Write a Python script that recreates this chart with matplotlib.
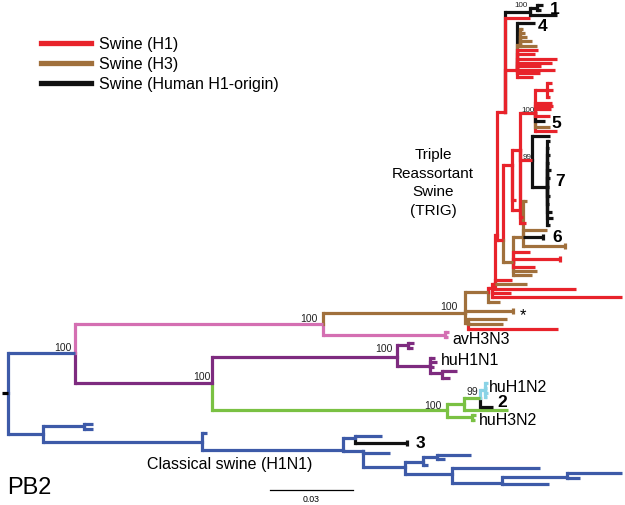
import matplotlib
matplotlib.use('Agg')
import matplotlib.pyplot as plt
from matplotlib.lines import Line2D
from collections import defaultdict

plt.rcParams['font.family'] = ['Liberation Sans', 'DejaVu Sans']

COL = {'red': '#E8232B', 'brown': '#A0703C', 'black': '#111111', 'pink': '#D46FB2',
       'purple': '#7E2B7F', 'green': '#7AC143', 'cyan': '#8AD3E6', 'blue': '#3D5AA8'}

# Tree nodes: (name, parent, depth, leaf position, clade colour, end tick)
# depth unit: 83 units = 0.03 substitutions/site
backbone = [
    ('root', None, 8, 393, 'blue', 0),
    ('A', 'root', 75, 353, 'blue', 0),
    ('P', 'A', 323, 324, 'pink', 0),
    ('Q', 'A', 212, 383, 'purple', 0),
    ('CS', 'root', 43, 434, 'blue', 0),
]
avian = [
    ('AV', 'P', 445, 335, 'pink', 0),
    ('av1', 'AV', 449, 332, 'pink', 0),
    ('av2', 'AV', 448, 337, 'pink', 0),
]
human = [
    ('H1', 'Q', 397, 357, 'purple', 0),
    ('H1a', 'H1', 408, 345, 'purple', 0),
    ('h1', 'H1a', 414, 343, 'purple', 0),
    ('h2', 'H1a', 413, 348, 'purple', 0),
    ('H1b', 'H1', 430, 366, 'purple', 0),
    ('h3', 'H1b', 435, 358, 'purple', 0),
    ('h4', 'H1b', 437, 362, 'purple', 0),
    ('h5', 'H1b', 434, 367, 'purple', 0),
    ('H1c', 'H1b', 442, 373, 'purple', 0),
    ('h6', 'H1c', 457, 371, 'purple', 0),
    ('h7', 'H1c', 450, 378, 'purple', 0),
    ('G', 'Q', 447, 410, 'green', 0),
    ('G2', 'G', 464, 404, 'green', 0),
    ('g1', 'G2', 508, 410, 'green', 0),
    ('G3', 'G2', 480, 398, 'green', 0),
    ('C', 'G3', 485, 390, 'cyan', 0),
    ('c1', 'C', 488, 383, 'cyan', 0),
    ('c2', 'C', 487, 388, 'cyan', 0),
    ('c3', 'C', 488, 393, 'cyan', 0),
    ('c4', 'C', 487, 397, 'cyan', 0),
    ('k2', 'G3', 493, 407, 'black', 0),
    ('G4', 'G', 472, 417, 'green', 0),
    ('g2', 'G4', 476, 415, 'green', 0),
    ('g3', 'G4', 475, 420, 'green', 0),
]
classical = [
    ('CS1', 'CS', 84, 426, 'blue', 0),
    ('cs1', 'CS1', 93, 424, 'blue', 0),
    ('cs2', 'CS1', 93, 429, 'blue', 0),
    ('CS2', 'CS', 202, 442, 'blue', 0),
    ('cs3', 'CS2', 207, 433, 'blue', 0),
    ('CS3', 'CS2', 343, 450, 'blue', 0),
    ('CS4', 'CS3', 355, 438, 'blue', 0),
    ('cs4', 'CS4', 382, 436, 'blue', 0),
    ('k3', 'CS4', 407, 443, 'black', 1),
    ('CS5', 'CS3', 363, 451, 'blue', 0),
    ('cs5', 'CS5', 390, 453, 'blue', 0),
    ('CS6', 'CS5', 405, 467, 'blue', 0),
    ('CS7', 'CS6', 423, 462, 'blue', 0),
    ('CS8', 'CS7', 437, 457, 'blue', 0),
    ('cs6', 'CS8', 471, 455, 'blue', 0),
    ('cs7', 'CS8', 445, 459, 'blue', 0),
    ('cs8', 'CS7', 428, 465, 'blue', 0),
    ('CS9', 'CS6', 452, 474, 'blue', 0),
    ('cs9', 'CS9', 540, 468, 'blue', 0),
    ('CS10', 'CS9', 502, 483, 'blue', 0),
    ('CS11', 'CS10', 567, 477, 'blue', 0),
    ('cs10', 'CS11', 622, 473, 'blue', 0),
    ('cs11', 'CS11', 580, 478, 'blue', 0),
    ('cs12', 'CS10', 549, 484, 'blue', 0),
]
trig = [
    ('TR', 'P', 465, 313, 'brown', 0),
    ('R1', 'TR', 488, 292, 'brown', 0),
    ('star', 'TR', 513, 311, 'brown', 1),
    ('RL', 'TR', 468, 323, 'brown', 0),
    ('rl1', 'RL', 507, 319, 'brown', 0),
    ('rl2', 'RL', 503, 324, 'brown', 0),
    ('rl3', 'RL', 558, 329, 'red', 0),
    ('r1t', 'R1', 500, 302, 'brown', 0),
    ('R2', 'R1', 492, 288, 'red', 0),
    ('r2a', 'R2', 622, 297, 'red', 0),
    ('r2b', 'R2', 511, 293, 'red', 0),
    ('R3', 'R2', 495, 284, 'red', 0),
    ('r3a', 'R3', 576, 289, 'red', 0),
    ('r3b', 'R3', 527, 284, 'brown', 0),
    ('r3c', 'R3', 512, 280, 'red', 0),
    ('R4', 'R3', 497, 235, 'red', 0),
    ('NT', 'R4', 505, 112, 'red', 0),
    ('N503', 'R4', 503, 240, 'red', 0),
    ('B1', 'NT', 530, 12, 'black', 0),
    ('nt1', 'NT', 530, 18, 'red', 0),
    ('B1a', 'B1', 537, 8, 'black', 0),
    ('b1', 'B1a', 543, 5, 'black', 0),
    ('b2', 'B1a', 541, 10, 'black', 0),
    ('b3', 'B1', 557, 15, 'black', 0),
    ('N517', 'NT', 517, 70, 'red', 0),
    ('k4', 'N517', 535, 23, 'black', 0),
    ('NB', 'N517', 520, 45, 'brown', 0),
    ('nb1', 'NB', 523, 29, 'brown', 0),
    ('nb2', 'NB', 525, 33, 'brown', 0),
    ('nb3', 'NB', 527, 37, 'brown', 0),
    ('nb4', 'NB', 532, 41, 'brown', 0),
    ('nb5', 'NB', 537, 46, 'brown', 0),
    ('n1', 'N517', 538, 50, 'red', 0),
    ('n2', 'N517', 535, 54, 'red', 0),
    ('n3', 'N517', 557, 59, 'red', 0),
    ('n4', 'N517', 552, 63, 'red', 0),
    ('n5', 'N517', 541, 66, 'red', 0),
    ('n6', 'N517', 555, 70, 'red', 0),
    ('n7', 'N517', 540, 73, 'red', 0),
    ('n8', 'N517', 533, 77, 'red', 0),
    ('N512', 'N503', 512, 165, 'red', 0),
    ('N513', 'N503', 513, 262, 'brown', 0),
    ('N520', 'N512', 520, 150, 'red', 0),
    ('m1', 'N512', 516, 200, 'red', 0),
    ('m2', 'N512', 519, 210, 'red', 0),
    ('N535', 'N520', 535, 113, 'red', 0),
    ('B7', 'N520', 532, 160, 'red', 0),
    ('m3', 'N520', 523, 217, 'red', 0),
    ('m4', 'N520', 526, 223, 'red', 0),
    ('N547', 'N535', 547, 90, 'red', 0),
    ('p1', 'N547', 552, 83, 'red', 0),
    ('p2', 'N547', 553, 90, 'red', 0),
    ('p3', 'N547', 550, 97, 'red', 0),
    ('p4', 'N535', 552, 103, 'red', 0),
    ('p5', 'N535', 553, 106, 'red', 0),
    ('p6', 'N535', 551, 109, 'red', 0),
    ('p7', 'N535', 550, 116, 'red', 0),
    ('k5', 'N535', 545, 121, 'black', 0),
    ('p8', 'N535', 550, 127, 'brown', 0),
    ('p9', 'N535', 557, 131, 'red', 0),
    ('q0', 'B7', 550, 136, 'black', 0),
    ('B7a', 'B7', 547, 187, 'black', 0),
    ('q1', 'B7a', 550, 141, 'black', 0),
    ('q2', 'B7a', 549, 148, 'black', 0),
    ('q3', 'B7a', 550, 155, 'black', 0),
    ('q4', 'B7a', 549, 163, 'black', 0),
    ('q5', 'B7a', 551, 170, 'black', 0),
    ('q6', 'B7a', 550, 178, 'black', 0),
    ('q7', 'B7a', 550, 196, 'black', 0),
    ('q8', 'B7a', 549, 204, 'black', 0),
    ('q9', 'B7a', 552, 212, 'black', 0),
    ('q10', 'B7a', 553, 218, 'black', 0),
    ('q11', 'B7a', 550, 225, 'black', 0),
    ('N523', 'N513', 523, 237, 'brown', 0),
    ('s0', 'N523', 527, 201, 'brown', 0),
    ('s1', 'N523', 547, 230, 'brown', 0),
    ('k6', 'N523', 543, 237, 'black', 1),
    ('s2', 'N523', 565, 246, 'brown', 1),
    ('t1', 'N513', 530, 252, 'red', 0),
    ('t2', 'N513', 560, 259, 'red', 1),
    ('t3', 'N513', 535, 267, 'red', 0),
    ('t4', 'N513', 537, 271, 'brown', 0),
    ('t5', 'N513', 532, 275, 'brown', 0),
]

# support values: (text, right x, y, size)
support = [('100', 72, 348, 7.5), ('100', 318, 318.5, 7.5), ('100', 458, 307, 7.5),
           ('100', 211, 377, 7.5), ('100', 393, 349, 7.5), ('100', 442, 406, 7.5),
           ('99', 478, 392, 7.5), ('100', 528, 5.5, 5.8), ('100', 535, 110.5, 5.8),
           ('99', 532, 157.5, 5.8)]
# clade labels: (text, left x, y, size, bold)
clade_labels = [('avH3N3', 452, 339, 11.5, False), ('huH1N1', 441, 360.5, 11.5, False),
                ('huH1N2', 489, 387.5, 11.5, False), ('huH3N2', 479, 420.5, 11.5, False),
                ('Classical swine (H1N1)', 147, 464.5, 11.5, False),
                ('1', 550, 9, 12.5, True), ('4', 538, 26.5, 12.5, True),
                ('5', 551, 123, 12.5, True), ('7', 555, 181, 12.5, True),
                ('6', 552, 238, 12.5, True), ('2', 497, 402.5, 12.5, True),
                ('3', 416, 444, 12.5, True), ('*', 520, 316, 12, False)]
legend_labels = ['Swine (H1)', 'Swine (H3)', 'Swine (Human H1-origin)']
legend_colors = ['red', 'brown', 'black']
scale_value = 0.03
scale_length = 83

fig = plt.figure(figsize=(6.25, 5.05), dpi=100)
ax = fig.add_axes([0, 0, 1, 1])
ax.set_xlim(0, 625)
ax.set_ylim(505, 0)
ax.axis('off')

LW = 2.3
nodes = {}
for grp in (backbone, avian, human, classical, trig):
    for name, parent, x, y, c, tick in grp:
        nodes[name] = dict(parent=parent, x=x, y=y, c=COL[c], tick=tick)
children = defaultdict(list)
for n, d in nodes.items():
    if d['parent']:
        children[d['parent']].append(n)

# vertical connectors (farthest child first so nearer colours overlay)
for p, ch in children.items():
    px, py = nodes[p]['x'], nodes[p]['y']
    for c in sorted(ch, key=lambda c: -abs(nodes[c]['y'] - py)):
        ax.plot([px, px], [py, nodes[c]['y']], color=nodes[c]['c'], lw=LW,
                solid_capstyle='projecting', zorder=2)
# horizontal branches
for n, d in nodes.items():
    if d['parent']:
        px = nodes[d['parent']]['x']
        ax.plot([px, d['x']], [d['y'], d['y']], color=d['c'], lw=LW,
                solid_capstyle='butt', zorder=3)
        if d['tick']:
            ax.plot([d['x'], d['x']], [d['y'] - 3, d['y'] + 3], color=d['c'],
                    lw=LW, solid_capstyle='butt', zorder=3)
# root stub
r = nodes['root']
ax.plot([r['x'] - 6, r['x']], [r['y'], r['y']], color='black', lw=LW,
        solid_capstyle='butt')

for t, x, y, s in support:
    ax.text(x, y, t, ha='right', va='center', fontsize=s, color='#222222')
for t, x, y, s, b in clade_labels:
    ax.text(x, y, t, ha='left', va='center', fontsize=s,
            fontweight='bold' if b else 'normal', color='black')

ax.text(433, 183, 'Triple\nReassortant\nSwine\n(TRIG)', ha='center', va='center',
        fontsize=11, linespacing=1.45)
ax.text(7, 488.5, 'PB2', ha='left', va='center', fontsize=17)

# scale bar
sx0 = 270
ax.plot([sx0, sx0 + scale_length], [490, 490], color='black', lw=0.9)
ax.text(sx0 + scale_length / 2, 499, f'{scale_value:.2f}', ha='center', va='center',
        fontsize=6.3)

handles = [Line2D([], [], color=COL[c], lw=3.8) for c in legend_colors]
ax.legend(handles, legend_labels, loc='upper left', bbox_to_anchor=(41 / 625, 1 - 37 / 505),
          frameon=False, fontsize=11.5, handlelength=3.15, handletextpad=0.5,
          labelspacing=0.3, borderpad=0, borderaxespad=0)

fig.savefig('out.png', dpi=100)
